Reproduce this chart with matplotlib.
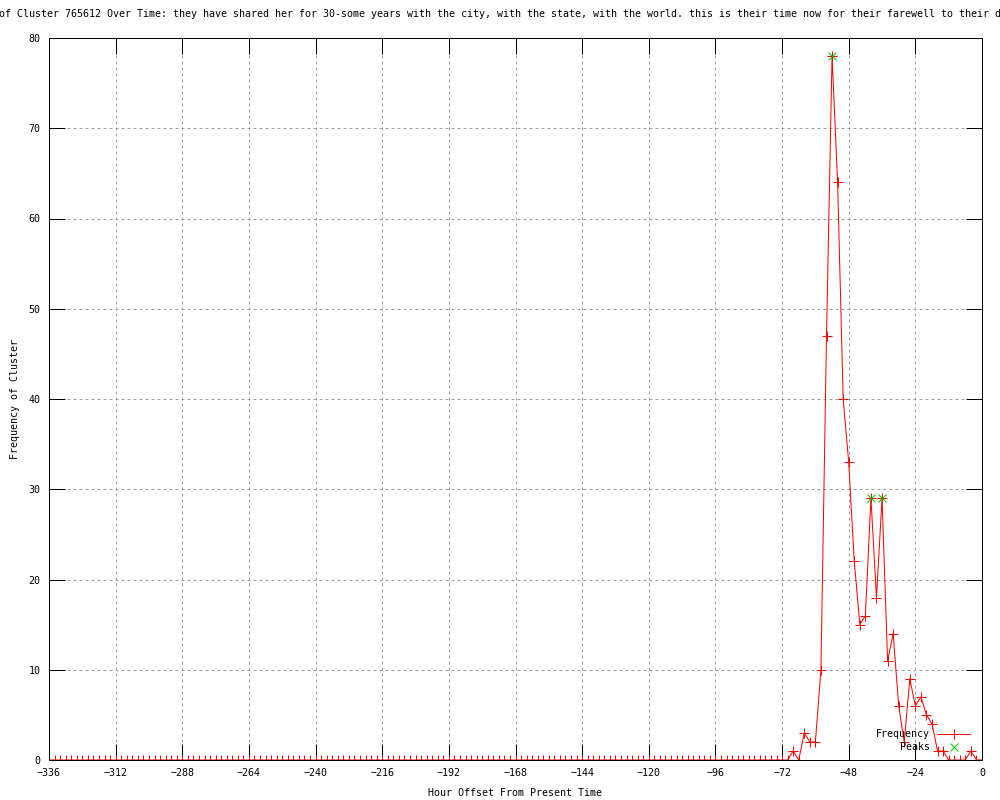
"""
Frequency of one cluster over the last two weeks, gnuplot-style linespoints
chart with detected peaks marked.
"""

import matplotlib

matplotlib.use("Agg")
import matplotlib.pyplot as plt
from matplotlib.lines import Line2D
import numpy as np

# hours before "now", one bin every 2 hours
hours = np.arange(-336, 1, 2)

# counts per 2-hour bin, -336 .. 0
frequency = [
    0, 0, 0, 0, 0, 0, 0, 0, 0, 0, 0, 0, 0, 0, 0, 0, 0, 0, 0, 0,
    0, 0, 0, 0, 0, 0, 0, 0, 0, 0, 0, 0, 0, 0, 0, 0, 0, 0, 0, 0,
    0, 0, 0, 0, 0, 0, 0, 0, 0, 0, 0, 0, 0, 0, 0, 0, 0, 0, 0, 0,
    0, 0, 0, 0, 0, 0, 0, 0, 0, 0, 0, 0, 0, 0, 0, 0, 0, 0, 0, 0,
    0, 0, 0, 0, 0, 0, 0, 0, 0, 0, 0, 0, 0, 0, 0, 0, 0, 0, 0, 0,
    0, 0, 0, 0, 0, 0, 0, 0, 0, 0, 0, 0, 0, 0, 0, 0, 0, 0, 0, 0,
    0, 0, 0, 0, 0, 0, 0, 0, 0, 0, 0, 0, 0, 0,
    # -68 .. 0
    1, 0, 3, 2, 2, 10, 47, 78, 64, 40, 33, 22, 15, 16, 29, 18, 29, 11,
    14, 6, 2, 9, 6, 7, 5, 4, 1, 1, 0, 0, 0, 0, 1, 0, 0,
]

peak_hours = [-54, -40, -36]
peak_values = [78, 29, 29]

x_ticks = list(range(-336, 1, 24))
y_ticks = list(range(0, 81, 10))

title = (
    "Frequency of Cluster 765612 Over Time: they have shared her for 30-some "
    "years with the city, with the state, with the world. this is their time "
    "now for their farewell to their daughter..."
)

RED = "#ff0000"
GREEN = "#00c000"
FS = 7.2
PX = 0.72  # one pixel in points at dpi 100

plt.rcParams["font.family"] = ["DejaVu Sans Mono"]
plt.rcParams["font.size"] = FS

fig = plt.figure(figsize=(10, 8), dpi=100)
ax = fig.add_axes([0.049, 0.05, 0.933, 0.9025])

ax.plot(hours, frequency, color=RED, lw=PX, marker="+",
        markersize=6.5, markeredgewidth=PX, markeredgecolor=RED)
ax.plot(peak_hours, peak_values, linestyle="none", color=GREEN,
        marker="x", markersize=5.5, markeredgewidth=PX, markeredgecolor=GREEN)

ax.set_xlim(-336, 0)
ax.set_ylim(0, 80)
ax.set_xticks(x_ticks)
ax.set_yticks(y_ticks)
ax.tick_params(direction="in", length=11.5, width=PX, top=True, right=True,
               labelsize=FS, pad=6, colors="black")
ax.grid(True, color="#a0a0a0", linestyle=(0, (3, 3)), linewidth=PX)
ax.set_axisbelow(True)
for spine in ax.spines.values():
    spine.set_linewidth(PX)
    spine.set_color("black")

fig.text(0.5, 1 - 14 / 800, title, ha="center", va="center", fontsize=FS)
fig.text(0.515, 1 - 793 / 800, "Hour Offset From Present Time",
         ha="center", va="center", fontsize=FS)
fig.text(0.015, 1 - 399 / 800, "Frequency of Cluster", ha="center",
         va="center", rotation=90, fontsize=FS)

handles = [
    Line2D([], [], color=RED, lw=PX, marker="+", markersize=6.5,
           markeredgewidth=PX, markeredgecolor=RED),
    Line2D([], [], color=GREEN, linestyle="none", marker="x", markersize=5.5,
           markeredgewidth=PX, markeredgecolor=GREEN),
]
ax.legend(handles, ["Frequency", "Peaks"], loc="lower right",
          bbox_to_anchor=(0.970, 1 - 752 / 800),
          bbox_transform=fig.transFigure, frameon=False, markerfirst=False,
          numpoints=1, borderpad=0, borderaxespad=0, handlelength=3.3,
          handletextpad=0.7, labelspacing=0.3, fontsize=FS)

fig.savefig("out.png", dpi=100)
